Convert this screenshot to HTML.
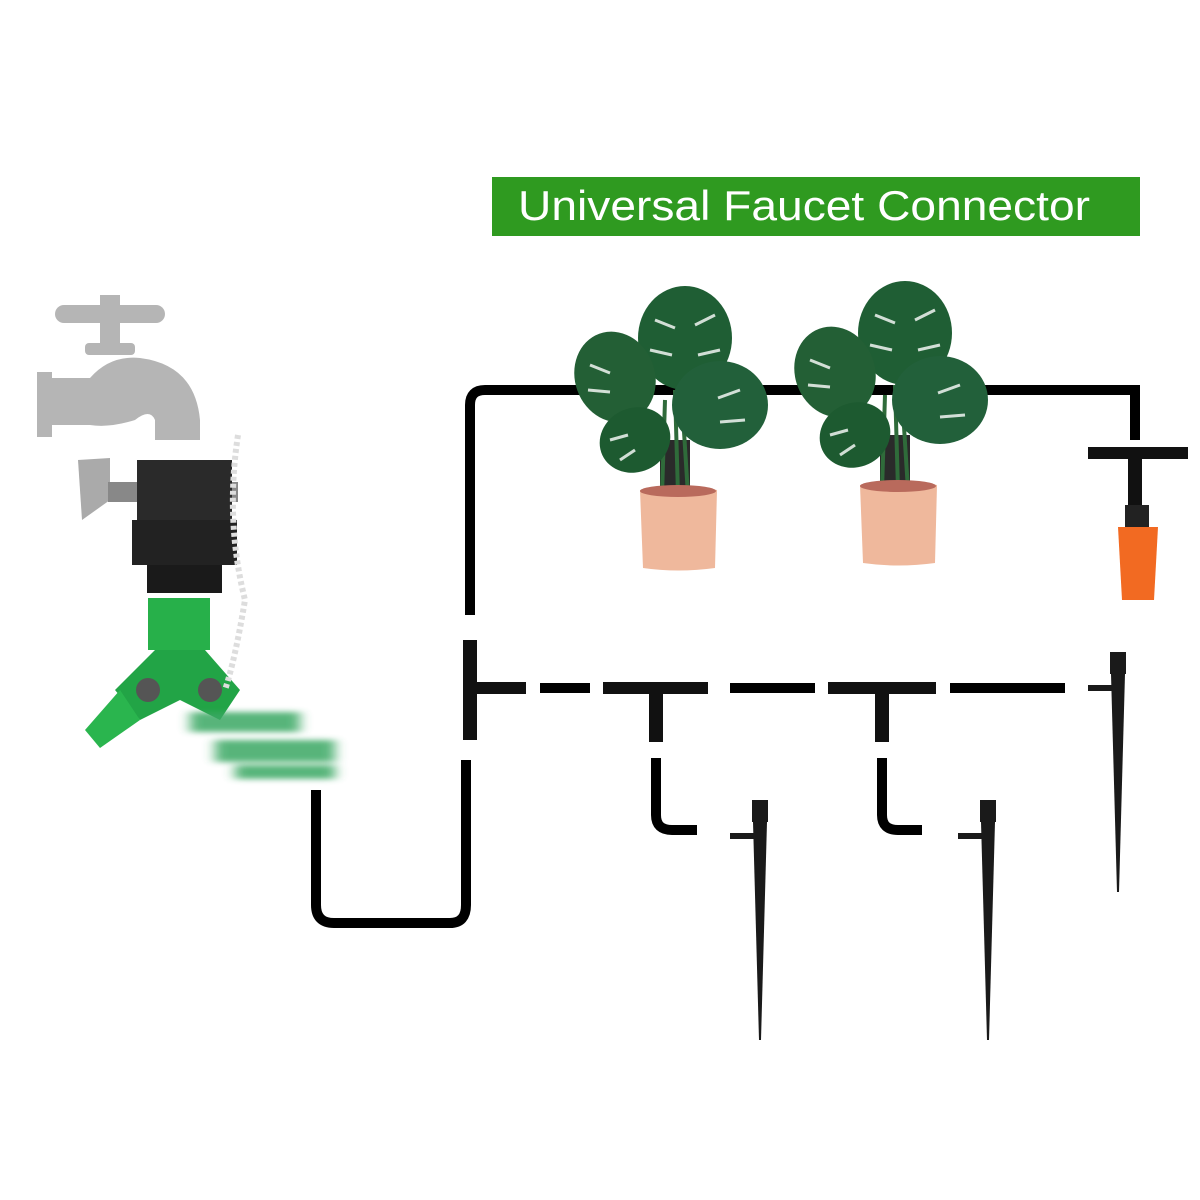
<!DOCTYPE html>
<html><head><meta charset="utf-8"><style>
html,body{margin:0;padding:0;background:#fff;width:1200px;height:1200px;overflow:hidden}
</style></head><body>
<svg width="1200" height="1200" viewBox="0 0 1200 1200" xmlns="http://www.w3.org/2000/svg">
<defs>
<filter id="bl" x="-20%" y="-50%" width="140%" height="200%"><feGaussianBlur stdDeviation="6 3"/></filter>
<g id="plant">
<rect x="90" y="160" width="30" height="55" fill="#2a2a2a"/>
<path d="M95,120 L92,215 M105,110 L108,215 M112,120 L118,215" stroke="#2f6b3a" stroke-width="4"/>
<ellipse cx="115" cy="58" rx="47" ry="52" fill="#1f5e34"/>
<ellipse cx="45" cy="97" rx="40" ry="46" fill="#235f35" transform="rotate(-20 45 97)"/>
<ellipse cx="150" cy="125" rx="48" ry="44" fill="#22603a"/>
<ellipse cx="65" cy="160" rx="36" ry="32" fill="#1d5a30" transform="rotate(-25 65 160)"/>
<g stroke="#fff" stroke-width="3" opacity="0.8">
<path d="M85,40 l20,8 M80,70 l22,5 M145,35 l-20,10 M150,70 l-22,5 M20,85 l20,8 M18,110 l22,2 M170,110 l-22,8 M175,140 l-25,2 M40,160 l18,-5 M50,180 l15,-10"/>
</g>
<path d="M70,210 Q108,202 147,210 L145,288 Q108,293 73,288 Z" fill="#efb89c"/>
<ellipse cx="108" cy="211" rx="38" ry="6" fill="#b96a5c"/>
</g>
<g id="spike"><rect x="-8" y="0" width="16" height="22" fill="#1a1a1a"/><path d="M-7,22 L7,22 L1,240 L-1,240 Z" fill="#1a1a1a"/><rect x="-30" y="33" width="24" height="6" fill="#1a1a1a"/></g>
</defs>
<rect x="492" y="177" width="648" height="59" fill="#2f9a20"/>
<text x="518" y="220" font-family="Liberation Sans, sans-serif" font-size="42" fill="#fff" textLength="572" lengthAdjust="spacingAndGlyphs">Universal Faucet Connector</text>

<g fill="none" stroke="#000" stroke-width="10">
<path d="M470,615 V405 Q470,390 485,390 H1135 V440"/>
<path d="M316,790 V905 Q316,923 334,923 H450 Q466,923 466,905 V760"/>
<path d="M656,758 V815 Q656,830 672,830 H697"/>
<path d="M882,758 V815 Q882,830 898,830 H922"/>
<path d="M540,688 H590 M730,688 H815 M950,688 H1065"/>
</g>
<g fill="#111">
<rect x="463" y="640" width="14" height="100"/><rect x="470" y="682" width="56" height="12"/>
<rect x="603" y="682" width="105" height="12"/><rect x="649" y="682" width="14" height="60"/>
<rect x="828" y="682" width="108" height="12"/><rect x="875" y="682" width="14" height="60"/>
<rect x="1088" y="447" width="100" height="12"/><rect x="1128" y="447" width="14" height="58"/>
</g>
<use href="#spike" transform="translate(760,800)"/>
<use href="#spike" transform="translate(988,800)"/>
<use href="#spike" transform="translate(1118,652)"/>
<rect x="1125" y="505" width="24" height="22" fill="#222"/>
<path d="M1118,527 H1158 L1154,600 H1122 Z" fill="#f26a22"/>
<use href="#plant" transform="translate(570,280)"/>
<use href="#plant" transform="translate(790,275)"/>

<g fill="#b5b5b5">
<rect x="55" y="305" width="110" height="18" rx="9"/><rect x="100" y="295" width="20" height="60"/>
<rect x="85" y="343" width="50" height="12" rx="4"/>
<path d="M50,378 H90 Q110,355 140,358 Q195,365 200,420 V440 H155 V420 Q150,408 135,420 Q110,428 90,425 H50 Z"/>
<rect x="37" y="372" width="15" height="65"/>
</g>
<path d="M78,460 L110,458 L110,475 L110,500 L82,520 Z" fill="#aaa"/>
<rect x="108" y="482" width="130" height="20" fill="#888"/>
<rect x="137" y="460" width="95" height="70" fill="#2a2a2a"/>
<rect x="132" y="520" width="105" height="45" fill="#222"/>
<rect x="147" y="565" width="75" height="28" fill="#1a1a1a"/>
<rect x="148" y="598" width="62" height="52" fill="#27b04a"/>
<path d="M155,650 H205 L240,690 L220,720 L180,700 L140,720 L115,690 Z" fill="#22a446"/>
<path d="M85,730 L120,690 L140,720 L100,748 Z" fill="#2ab54e"/>
<circle cx="148" cy="690" r="12" fill="#555"/><circle cx="210" cy="690" r="12" fill="#555"/>
<g filter="url(#bl)" fill="#3aa864" opacity="0.85">
<rect x="190" y="712" width="110" height="20"/><rect x="215" y="740" width="120" height="22"/><rect x="235" y="765" width="100" height="14"/>
</g>
<path d="M238,435 Q225,520 245,600 Q235,660 225,690" stroke="#ddd" stroke-width="6" stroke-dasharray="4 3" fill="none"/>
</svg>
</body></html>
